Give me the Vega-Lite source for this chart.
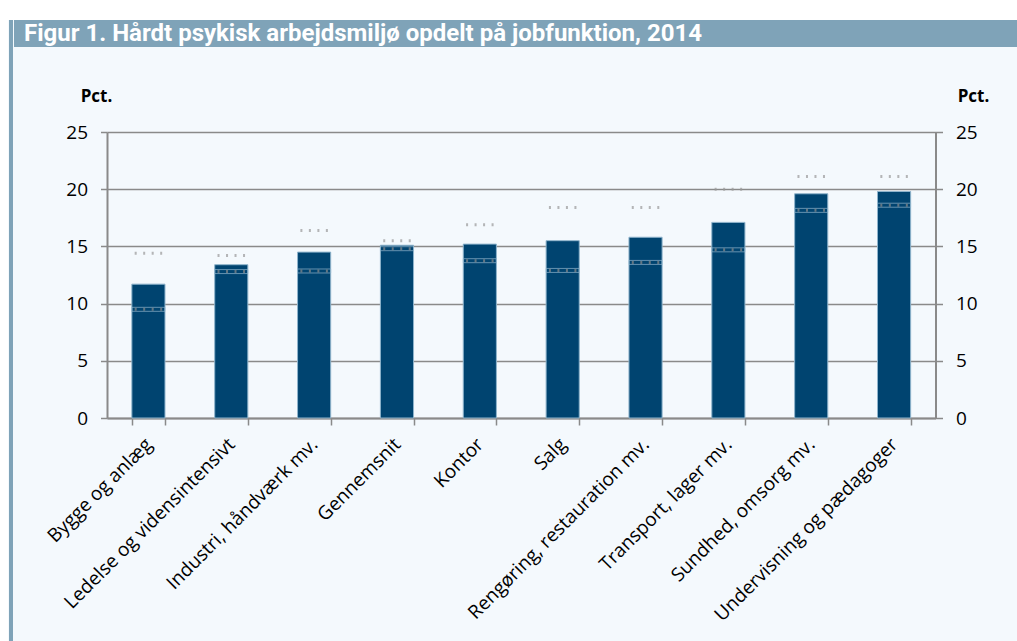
{
  "$schema": "https://vega.github.io/schema/vega-lite/v6.json",
  "background": "#f4f9fd",
  "padding": 0,
  "spacing": 0,
  "config": {
    "view": {"stroke": null},
    "font": "Open Sans",
    "axis": {"labelFont": "Open Sans", "titleFont": "Open Sans", "labelColor": "#000000", "titleColor": "#000000"}
  },
  "vconcat": [
    {
      "width": 1017, "height": 20,
      "view": {"fill": "#ffffff", "stroke": null},
      "data": {"values": [{}]},
      "mark": {"type": "point", "opacity": 0}
    },
    {
      "spacing": 0,
      "hconcat": [
        {
          "width": 8, "height": 621,
          "view": {"fill": "#ffffff", "stroke": null},
          "data": {"values": [{}]},
          "mark": {"type": "point", "opacity": 0}
        },
        {
          "width": 4, "height": 621,
          "view": {"fill": "#7fa3b8", "stroke": null},
          "data": {"values": [{}]},
          "mark": {"type": "point", "opacity": 0}
        },
        {
          "spacing": 40,
          "vconcat": [
            {
              "width": 1005, "height": 27,
              "view": {"fill": "#7fa3b8", "stroke": null},
              "data": {"values": [{"t": "Figur 1. Hårdt psykisk arbejdsmiljø opdelt på jobfunktion, 2014"}]},
              "mark": {"type": "text", "align": "left", "baseline": "middle", "font": "Roboto", "fontWeight": "bold", "fontSize": 24, "color": "#ffffff"},
              "encoding": {
                "x": {"datum": 0.01, "type": "quantitative", "scale": {"domain": [0, 1]}, "axis": null},
                "y": {"datum": 0.5, "type": "quantitative", "scale": {"domain": [0, 1]}, "axis": null},
                "text": {"field": "t", "type": "nominal"}
              }
            },
            {
              "spacing": 0,
              "hconcat": [
                {
                  "width": 30, "height": 10,
                  "data": {"values": [{}]},
                  "mark": {"type": "point", "opacity": 0}
                },
                {
                  "width": 828.5,
                  "height": 286,
                  "data": {
                    "values": [
                      {"job": "Bygge og anlæg", "pct": 11.7, "lo": 9.5, "hi": 14.4},
                      {"job": "Ledelse og vidensintensivt", "pct": 13.4, "lo": 12.8, "hi": 14.2},
                      {"job": "Industri, håndværk mv.", "pct": 14.5, "lo": 12.85, "hi": 16.4},
                      {"job": "Gennemsnit", "pct": 15.1, "lo": 14.8, "hi": 15.5},
                      {"job": "Kontor", "pct": 15.2, "lo": 13.75, "hi": 16.9},
                      {"job": "Salg", "pct": 15.5, "lo": 12.9, "hi": 18.4},
                      {"job": "Rengøring, restauration mv.", "pct": 15.8, "lo": 13.6, "hi": 18.4},
                      {"job": "Transport, lager mv.", "pct": 17.1, "lo": 14.7, "hi": 20.0},
                      {"job": "Sundhed, omsorg mv.", "pct": 19.6, "lo": 18.15, "hi": 21.1},
                      {"job": "Undervisning og pædagoger", "pct": 19.8, "lo": 18.6, "hi": 21.1}
                    ]
                  },
                  "encoding": {
                    "x": {
                      "field": "job", "type": "nominal", "sort": null,
                      "scale": {"paddingInner": 0.6, "paddingOuter": 0.3},
                      "axis": {
                        "title": null, "labelAngle": -45, "labelAlign": "right", "labelBaseline": "middle",
                        "labelFontSize": 19, "labelPadding": 16, "labelLimit": 400,
                        "tickBand": "extent", "tickSize": 7, "tickColor": "#8a8a8a", "tickWidth": 1.5,
                        "domainColor": "#8a8a8a", "domainWidth": 2, "grid": false
                      }
                    }
                  },
                  "layer": [
                    {
                      "mark": {"type": "bar", "color": "#004470", "stroke": "#8fb4cc", "strokeWidth": 1},
                      "encoding": {
                        "y": {
                          "field": "pct", "type": "quantitative",
                          "scale": {"domain": [0, 25], "nice": false},
                          "axis": {
                            "orient": "left", "values": [0, 5, 10, 15, 20, 25],
                            "grid": true, "gridColor": "#8a8a8a", "gridWidth": 1.5,
                            "domainColor": "#8a8a8a", "domainWidth": 2,
                            "tickColor": "#8a8a8a", "tickSize": 6.5, "tickWidth": 1.5,
                            "labelFontSize": 19, "labelPadding": 13,
                            "title": "Pct.", "titleAngle": 0, "titleAlign": "center", "titleBaseline": "alphabetic",
                            "titleFontSize": 17, "titleFontWeight": "bold", "titleX": -11, "titleY": -31
                          }
                        }
                      }
                    },
                    {
                      "mark": {"type": "tick", "filled": false, "color": "#8fb4cc", "strokeWidth": 1, "thickness": 4, "size": 33},
                      "encoding": {"y": {"field": "lo", "type": "quantitative", "axis": null}}
                    },
                    {
                      "mark": {"type": "tick", "filled": false, "color": "#8c8c8c", "strokeWidth": 3, "thickness": 0.01, "size": 34, "strokeDash": [2, 6.5], "strokeDashOffset": 5.25},
                      "encoding": {"y": {"field": "lo", "type": "quantitative", "axis": null}}
                    },
                    {
                      "mark": {"type": "tick", "filled": false, "color": "#999999", "strokeWidth": 3, "thickness": 0.01, "size": 34, "strokeDash": [2, 6.5], "strokeDashOffset": 5.25},
                      "encoding": {
                        "y": {
                          "field": "hi", "type": "quantitative",
                          "axis": {
                            "orient": "right", "values": [0, 5, 10, 15, 20, 25],
                            "grid": false,
                            "domainColor": "#8a8a8a", "domainWidth": 2,
                            "tickColor": "#8a8a8a", "tickSize": 7, "tickWidth": 1.5,
                            "labelFontSize": 19, "labelPadding": 13,
                            "title": "Pct.", "titleAngle": 0, "titleAlign": "center", "titleBaseline": "alphabetic",
                            "titleFontSize": 17, "titleFontWeight": "bold", "titleX": 37.5, "titleY": -31
                          }
                        }
                      }
                    }
                  ],
                  "resolve": {"axis": {"y": "independent"}}
                }
              ]
            }
          ]
        }
      ]
    }
  ]
}
